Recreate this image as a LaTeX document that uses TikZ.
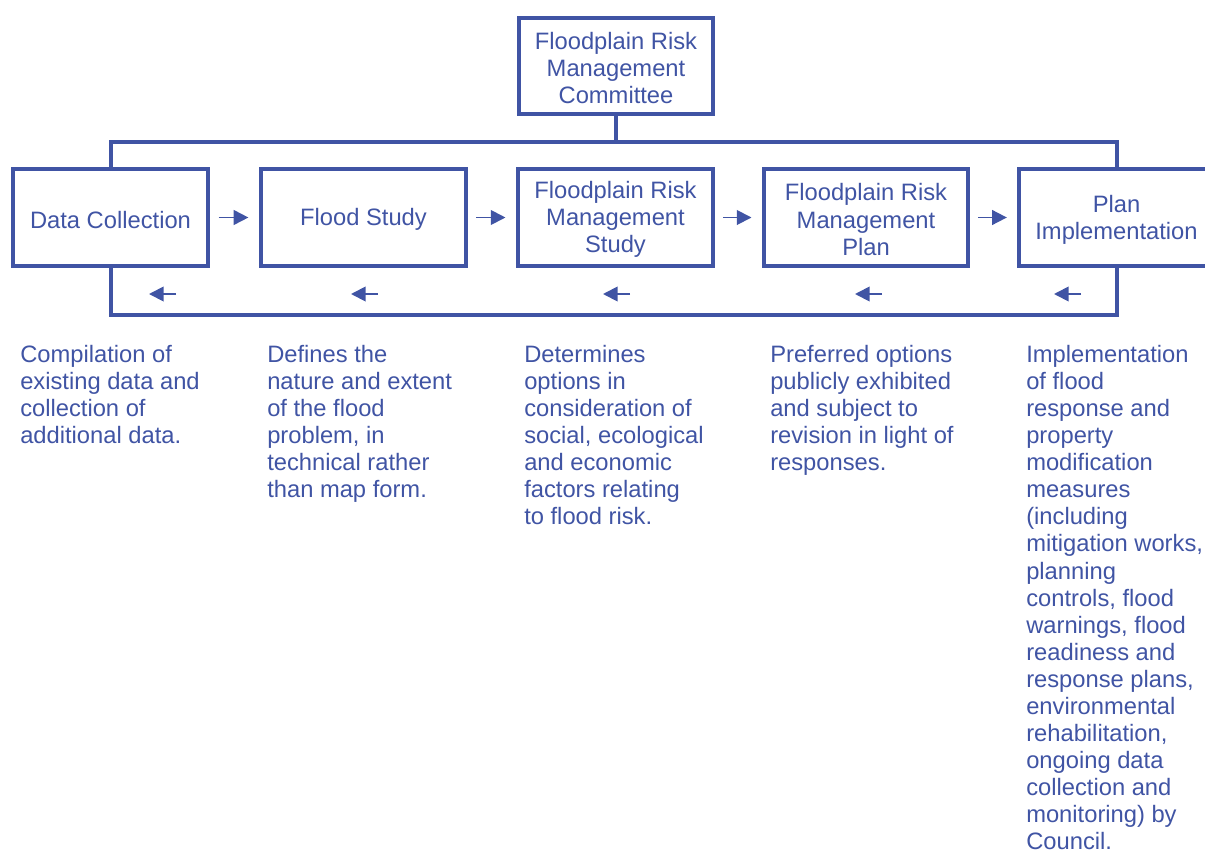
\documentclass[tikz,border=0pt]{standalone}
\usepackage{fontspec}
\setmainfont{Liberation Sans}
\usetikzlibrary{arrows.meta,calc}
\definecolor{frblue}{RGB}{64,84,164}
\newcommand{\topstrut}{\rule{0pt}{16pt}}
\begin{document}
\begin{tikzpicture}[x=0.75pt,y=-0.75pt,
  box/.style={draw=frblue,line width=3pt,outer sep=0pt,inner sep=2pt,align=center,text=frblue,
    minimum height=72.75pt,font=\fontsize{17.8}{20.4}\selectfont},
  narrow/.style={box,minimum width=146.25pt},
  wide/.style={box,minimum width=153.5pt},
  link/.style={draw=frblue,line width=3pt,line cap=rect},
  arr/.style={draw=frblue,line width=1.4pt,-{Triangle[length=11pt,width=11pt]}},
  desc/.style={anchor=north west,inner sep=0pt,align=left,text=frblue,font=\fontsize{17.8}{20.3}\selectfont}]
\useasboundingbox (0,0) rectangle (1205,853);
\node[narrow,minimum height=72pt,minimum width=145.5pt] (top) at (616,66) {\topstrut Floodplain Risk\\Management\\Committee};
\node[narrow] (dc) at (110.5,217.5) {\topstrut Data Collection};
\node[wide] (fs) at (363.5,217.5) {\topstrut Flood Study};
\node[narrow] (fms) at (615.5,217.5) {\topstrut Floodplain Risk\\Management\\Study};
\node[wide] (fmp) at (866,217.5) {\topstrut Floodplain Risk\\Management\\Plan};
\node[narrow] (pi) at (1116.5,217.5) {\topstrut Plan\\Implementation};
\coordinate (bus) at (616,142);
\coordinate (bbus) at (616,315);
\draw[link] (top.south) -- (top.south |- bus);
\draw[link] (dc.north) -- (dc.north |- bus) -- (pi.north |- bus) -- (pi.north);
\draw[link] (dc.south) -- (dc.south |- bbus) -- (pi.south |- bbus) -- (pi.south);
\draw[arr] ($(dc.east)!0.2!(fs.west)$) -- ($(dc.east)!0.76!(fs.west)$);
\draw[arr] ($(fs.east)!0.2!(fms.west)$) -- ($(fs.east)!0.76!(fms.west)$);
\draw[arr] ($(fms.east)!0.2!(fmp.west)$) -- ($(fms.east)!0.76!(fmp.west)$);
\draw[arr] ($(fmp.east)!0.2!(pi.west)$) -- ($(fmp.east)!0.76!(pi.west)$);
\coordinate (a1s) at (176,294); \coordinate (a1e) at (149,294);
\coordinate (a2s) at (378,294); \coordinate (a2e) at (351,294);
\coordinate (a3s) at (630,294); \coordinate (a3e) at (603,294);
\coordinate (a4s) at (882,294); \coordinate (a4e) at (855,294);
\coordinate (a5s) at (1081,294); \coordinate (a5e) at (1054,294);
\draw[arr] (a1s) -- (a1e);
\draw[arr] (a2s) -- (a2e);
\draw[arr] (a3s) -- (a3e);
\draw[arr] (a4s) -- (a4e);
\draw[arr] (a5s) -- (a5e);
\node[desc] (d1) at (20,345) {Compilation of\\existing data and\\collection of\\additional data.};
\node[desc] (d2) at (267,345) {Defines the\\nature and extent\\of the flood\\problem, in\\technical rather\\than map form.};
\node[desc] (d3) at (524,345) {Determines\\options in\\consideration of\\social, ecological\\and economic\\factors relating\\to flood risk.};
\node[desc] (d4) at (770,345) {Preferred options\\publicly exhibited\\and subject to\\revision in light of\\responses.};
\node[desc] (d5) at (1026,345) {Implementation\\of flood\\response and\\property\\modification\\measures\\(including\\mitigation works,\\planning\\controls, flood\\warnings, flood\\readiness and\\response plans,\\environmental\\rehabilitation,\\ongoing data\\collection and\\monitoring) by\\Council.};
\end{tikzpicture}
\end{document}
